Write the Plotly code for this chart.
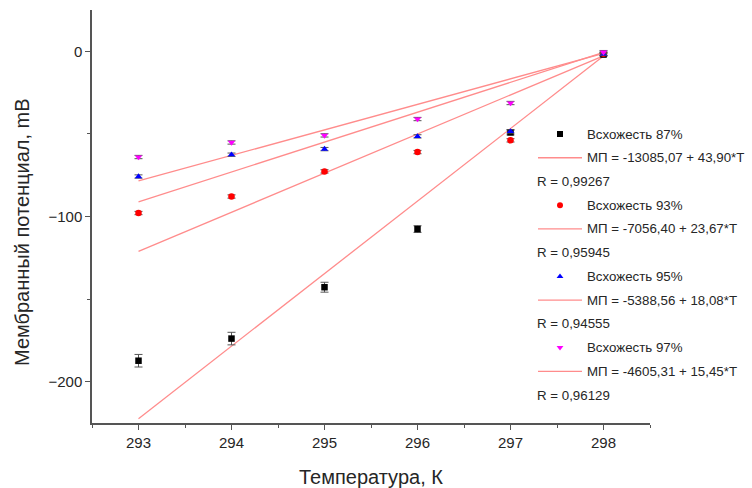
import plotly.graph_objects as go

temps = [293, 294, 295, 296, 297, 298]
s87 = [-187.3, -173.9, -142.8, -107.6, -49.1, -2.0]
s87_err = [3.8, 3.8, 3.0, 2.0, 1.5, 1.0]
s93 = [-97.9, -87.9, -72.7, -61.0, -53.9, -1.5]
s95 = [-75.8, -62.6, -59.2, -51.5, -48.5, -1.5]
s97 = [-64.0, -55.2, -50.9, -41.0, -31.3, -0.5]
small_err = [1.0, 1.0, 1.0, 1.0, 1.0, 1.0]

names = ["Всхожесть 87%", "Всхожесть 93%", "Всхожесть 95%", "Всхожесть 97%"]
intercepts = [-13085.07, -7056.40, -5388.56, -4605.31]
slopes = [43.90, 23.67, 18.08, 15.45]
fit_labels = ["МП = -13085,07 + 43,90*T", "МП = -7056,40 + 23,67*T",
              "МП = -5388,56 + 18,08*T", "МП = -4605,31 + 15,45*T"]
r_labels = ["R = 0,99267", "R = 0,95945", "R = 0,94555", "R = 0,96129"]
x_title = "Температура, К"
y_title = "Мембранный потенциал, mВ"

series = [s87, s93, s95, s97]
errs = [s87_err, small_err, small_err, small_err]
colors = ["#000000", "#FF0000", "#0000FF", "#FF00FF"]
symbols = ["square", "circle", "triangle-up", "triangle-down"]
line_color = "#FF8C8C"
font = "Arial, Liberation Sans, sans-serif"
txt_color = "#262626"

fig = go.Figure()

# fit lines
for b, k in zip(intercepts, slopes):
    xs = [temps[0], temps[-1]]
    ys = [b + k * x for x in xs]
    fig.add_trace(go.Scatter(x=xs, y=ys, mode="lines",
                             line=dict(color=line_color, width=1.3),
                             showlegend=False, hoverinfo="skip"))

# data points
for ys, er, c, sym in zip(series, errs, colors, symbols):
    fig.add_trace(go.Scatter(
        x=temps, y=ys, mode="markers",
        marker=dict(color=c, symbol=sym, size=6.5, line=dict(width=0)),
        error_y=dict(type="data", array=er, visible=True,
                     color="#555555", thickness=1, width=4),
        showlegend=False))

# manual legend (pixel layout)
L, R, T, B = 92, 650, 10, 423
W, H = 752, 488
def px(x):
    return (x - L) / (R - L)
def py(y):
    return (B - y) / (B - T)

row0, dy = 134, 23.73
lf = dict(size=13.3, color=txt_color, family=font)
annotations = []
shapes = []
leg_x, leg_y, leg_c, leg_s = [], [], [], []
for i in range(4):
    y1 = row0 + dy * (3 * i)
    y2 = row0 + dy * (3 * i + 1)
    y3 = row0 + dy * (3 * i + 2)
    leg_x.append(560); leg_y.append(y1); leg_c.append(colors[i]); leg_s.append(symbols[i])
    annotations.append(dict(x=px(585), y=py(y1), xref="paper", yref="paper",
                            text=names[i], showarrow=False, xanchor="left",
                            yanchor="middle", font=lf))
    shapes.append(dict(type="line", xref="paper", yref="paper",
                       x0=px(538), x1=px(582), y0=py(y2), y1=py(y2),
                       line=dict(color=line_color, width=1.3)))
    annotations.append(dict(x=px(585), y=py(y2), xref="paper", yref="paper",
                            text=fit_labels[i], showarrow=False, xanchor="left",
                            yanchor="middle", font=lf))
    annotations.append(dict(x=px(535), y=py(y3), xref="paper", yref="paper",
                            text=r_labels[i], showarrow=False, xanchor="left",
                            yanchor="middle", font=lf))

# axis titles
tf = dict(size=20, color=txt_color, family=font)
annotations.append(dict(x=px(371), y=py(477), xref="paper", yref="paper", text=x_title,
                        showarrow=False, xanchor="center", yanchor="middle", font=tf))
annotations.append(dict(x=px(22), y=py(232), xref="paper", yref="paper", text=y_title,
                        showarrow=False, xanchor="center", yanchor="middle", textangle=-90, font=tf))

fig.add_trace(go.Scatter(x=leg_x, y=leg_y, mode="markers", xaxis="x2", yaxis="y2",
                         marker=dict(color=leg_c, symbol=leg_s, size=6, line=dict(width=0)),
                         cliponaxis=False, showlegend=False, hoverinfo="skip"))

axis_common = dict(showgrid=False, zeroline=False, showline=True, linecolor="#555555",
                   linewidth=1.5, ticks="outside", tickcolor="#555555", ticklen=5, tickwidth=1.2,
                   automargin=False,
                   tickfont=dict(size=15, color=txt_color, family=font))

fig.update_layout(
    width=W, height=H,
    margin=dict(l=L, r=W - R, t=T, b=H - B),
    paper_bgcolor="white", plot_bgcolor="white",
    showlegend=False,
    xaxis=dict(range=[292.5, 298.5], tickvals=temps, **axis_common,
               minor=dict(tickvals=[292.5, 293.5, 294.5, 295.5, 296.5, 297.5, 298.5],
                          ticks="outside", ticklen=3, tickcolor="#555555", tickwidth=1.2)),
    yaxis=dict(range=[-225, 25], tickvals=[-200, -100, 0], **axis_common,
               minor=dict(tickvals=[-150, -50], ticks="outside", ticklen=3,
                          tickcolor="#555555", tickwidth=1.2)),
    xaxis2=dict(overlaying="x", range=[L, R], visible=False, fixedrange=True),
    yaxis2=dict(overlaying="y", range=[B, T], visible=False, fixedrange=True),
    annotations=annotations,
    shapes=shapes,
)

fig.write_html("out.html", config={"displayModeBar": False},
               post_script="document.body.style.margin='0px';")
